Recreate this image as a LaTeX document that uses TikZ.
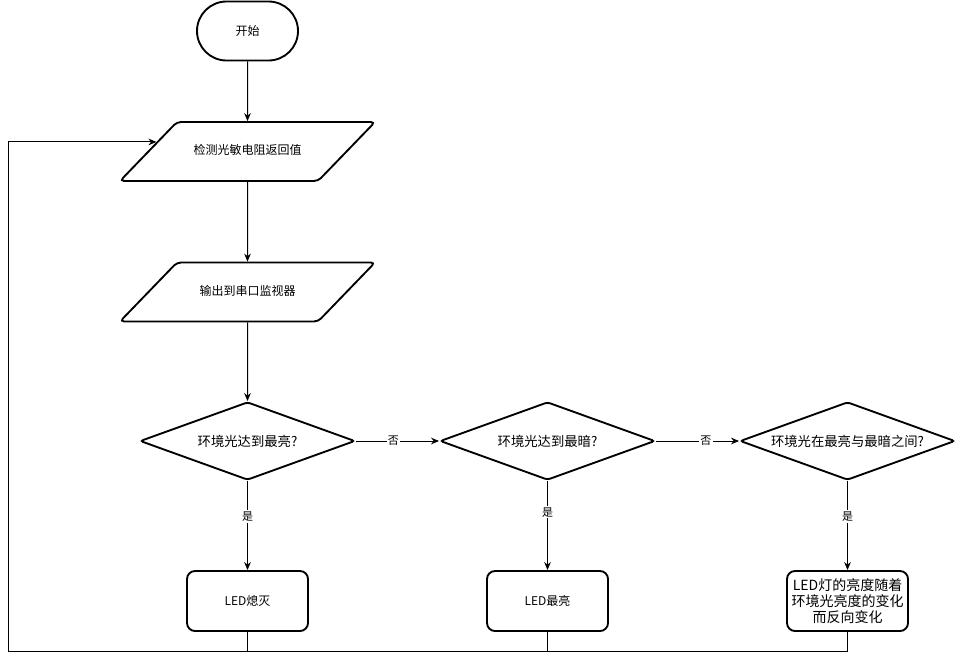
\documentclass[tikz,border=0pt]{standalone}
\usepackage{fontspec}
\setmainfont{Noto Sans CJK SC}
\usetikzlibrary{shapes.geometric,shapes.misc,arrows.meta}

\begin{document}
\begin{tikzpicture}[x=0.75pt,y=-0.75pt,>={Stealth[length=6pt,width=5pt]},line width=0.75pt,
  startbox/.style={draw,line width=1.4pt,rounded rectangle,minimum width=75.75pt,minimum height=44.25pt,inner sep=0pt,font=\fontsize{9}{11}\selectfont},
  iobox/.style={draw,line width=1.4pt,trapezium,trapezium left angle=46,trapezium right angle=134,trapezium stretches body=true,minimum width=191.25pt,text height=7pt,text depth=2pt,inner xsep=0pt,inner ysep=17.6pt,rounded corners=3pt,font=\fontsize{9}{11}\selectfont},
  askbox/.style={draw,line width=1.4pt,diamond,aspect=2.76,minimum width=161.25pt,minimum height=58.5pt,inner sep=0pt,rounded corners=2pt,font=\fontsize{10}{12}\selectfont},
  ledbox/.style={draw,line width=1.4pt,rounded corners=6pt,minimum width=90.75pt,minimum height=45pt,inner sep=1pt,align=center,font=\fontsize{9}{11}\selectfont},
  lbl/.style={fill=white,inner sep=1pt,font=\fontsize{8.25}{10}\selectfont}]
  \useasboundingbox (0,0) rectangle (959,660);
  \node[startbox] (start) at (247.5,31) {开始};
  \node[iobox] (read) at (247.5,151.5) {检测光敏电阻返回值};
  \node[iobox] (print) at (247.5,292) {输出到串口监视器};
  \node[askbox] (bright) at (247.5,441) {环境光达到最亮?};
  \node[askbox] (dark) at (547.5,441) {环境光达到最暗?};
  \node[askbox] (mid) at (847.5,441) {环境光在最亮与最暗之间?};
  \node[ledbox] (off) at (247.5,601) {LED熄灭};
  \node[ledbox] (full) at (547.5,601) {LED最亮};
  \node[ledbox,font=\fontsize{10.5}{12}\selectfont] (vary) at (847.5,601) {LED灯的亮度随着\\环境光亮度的变化\\而反向变化};
  \coordinate (back) at (8,651);
  \draw[->] (start) -- (read);
  \draw[->] (read) -- (print);
  \draw[->] (print) -- (bright);
  \draw[->] (bright) -- node[lbl,pos=0.45] {否} (dark);
  \draw[->] (dark) -- node[lbl,pos=0.6] {否} (mid);
  \draw[->] (bright) -- node[lbl,pos=0.4] {是} (off);
  \draw[->] (dark) -- node[lbl,pos=0.35] {是} (full);
  \draw[->] (mid) -- node[lbl,pos=0.4] {是} (vary);
  \draw (off.south) -- (off.south |- back);
  \draw (full.south) -- (full.south |- back);
  \draw[->] (vary.south) |- (back) |- (read.174);
\end{tikzpicture}
\end{document}
